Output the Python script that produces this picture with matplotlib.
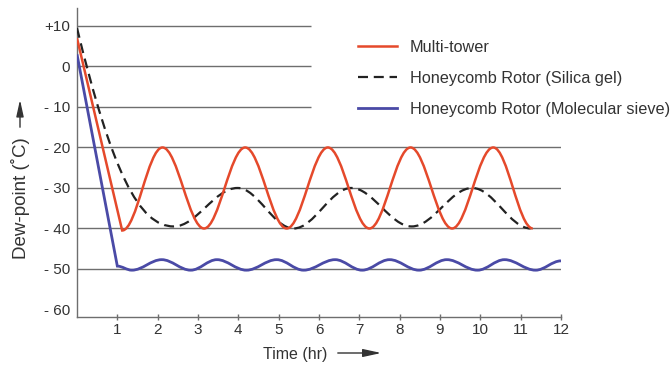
import matplotlib
matplotlib.use('Agg')
import matplotlib.pyplot as plt
from matplotlib.path import Path
from matplotlib.patches import PathPatch, FancyArrowPatch
from matplotlib.lines import Line2D

plt.rcParams['font.family'] = ['Liberation Sans', 'DejaVu Sans']

# ---- data (start point, corners and extrema) ----
series_names = ['Multi-tower', 'Honeycomb Rotor (Silica gel)', 'Honeycomb Rotor (Molecular sieve)']

red_t = [0.0, 1.12, 2.12, 3.15, 4.17, 5.2, 6.22, 7.25, 8.27, 9.3, 10.32, 11.3]
red_v = [7.0, -40.5, -20.0, -40.0, -20.0, -40.0, -20.0, -40.0, -20.0, -40.0, -20.0, -40.0]

black_t = [0.0, 2.4, 3.98, 5.37, 6.8, 8.3, 9.8, 11.25]
black_v = [9.5, -39.5, -30.0, -40.0, -30.0, -39.5, -30.0, -40.0]
black_start_slope = -41.0

blue_t = [0.0, 1.0, 1.36, 2.1, 2.82, 3.47, 4.2, 4.95, 5.62, 6.4, 7.07, 7.75, 8.48, 9.17, 9.93, 10.6, 11.37, 12.0]
blue_v = [3.0, -49.3, -50.3, -47.7, -50.3, -47.7, -50.3, -47.7, -50.3, -47.7, -50.3, -47.7, -50.3, -47.7, -50.3, -47.7, -50.3, -48.0]

y_ticks = [10, 0, -10, -20, -30, -40, -50, -60]
y_ticklabels = ['+10', '0', '- 10', '- 20', '- 30', '- 40', '- 50', '- 60']
x_ticks = [1, 2, 3, 4, 5, 6, 7, 8, 9, 10, 11, 12]

RED = '#e5492b'
BLUE = '#4a4aa6'
BLACK = '#222222'
GRID = '#6e6e6e'
TXT = '#333333'


def curve_path(ts, vs, n_lines=0, start_slope=None, k=0.36):
    verts = [(ts[0], vs[0])]
    codes = [Path.MOVETO]
    for i in range(1, len(ts)):
        x0, y0, x1, y1 = ts[i - 1], vs[i - 1], ts[i], vs[i]
        if i <= n_lines:
            verts.append((x1, y1))
            codes.append(Path.LINETO)
            continue
        dx = x1 - x0
        s0 = start_slope if (i == 1 and start_slope is not None) else 0.0
        c1 = (x0 + dx * k, y0 + s0 * dx * k)
        c2 = (x1 - dx * k, y1)
        verts += [c1, c2, (x1, y1)]
        codes += [Path.CURVE4] * 3
    return Path(verts, codes)


fig = plt.figure(figsize=(6.72, 3.66), dpi=100)
ax = fig.add_axes([77 / 672, 49 / 366, 484 / 672, 309 / 366])
ax.set_xlim(0, 12)
ax.set_ylim(-61.86, 14.44)

# horizontal guide lines
for v in y_ticks:
    if v == -60:
        continue
    xmax = 5.8 if v > -15 else 12
    ax.plot([0, xmax], [v, v], color=GRID, lw=1.0, zorder=1, solid_capstyle='butt')

ax.add_patch(PathPatch(curve_path(black_t, black_v, 0, black_start_slope), fill=False,
                       edgecolor=BLACK, lw=1.6, linestyle=(0, (4.5, 2.6)), zorder=3))
ax.add_patch(PathPatch(curve_path(red_t, red_v, 1), fill=False,
                       edgecolor=RED, lw=1.8, zorder=4))
ax.add_patch(PathPatch(curve_path(blue_t, blue_v, 1), fill=False,
                       edgecolor=BLUE, lw=2.0, zorder=4))

for s in ['top', 'right']:
    ax.spines[s].set_visible(False)
for s in ['left', 'bottom']:
    ax.spines[s].set_color(GRID)
    ax.spines[s].set_linewidth(1.0)

ax.set_yticks(y_ticks)
ax.set_yticklabels(y_ticklabels)
ax.set_xticks(x_ticks)
ax.set_xticklabels([str(x) for x in x_ticks])
ax.tick_params(axis='y', length=0, pad=5, labelsize=11, labelcolor=TXT)
ax.tick_params(axis='x', direction='inout', length=5, width=1.0, color=GRID, pad=2,
               labelsize=11, labelcolor=TXT)

handles = [Line2D([], [], color=RED, lw=1.8),
           Line2D([], [], color=BLACK, lw=1.6, linestyle=(0, (4.5, 2.6))),
           Line2D([], [], color=BLUE, lw=2.0)]
leg = fig.legend(handles, series_names, loc='upper left',
                 bbox_to_anchor=(358 / 672, 1 - 40 / 366), bbox_transform=fig.transFigure,
                 frameon=False, fontsize=11.7, handlelength=2.4, handletextpad=0.8,
                 labelspacing=0.97, borderpad=0, borderaxespad=0)
for t in leg.get_texts():
    t.set_color(TXT)

# axis titles with arrows
fig.text(263 / 672, 1 - 354 / 366, 'Time (hr)', ha='left', va='center', fontsize=11.5, color=TXT)
fig.patches.append(FancyArrowPatch(
    (335 / 672, 1 - 353 / 366), (384 / 672, 1 - 353 / 366), transform=fig.transFigure,
    arrowstyle='-|>,head_length=11,head_width=2.4', color=TXT, lw=1.0))

fig.text(21 / 672, 1 - 198 / 366, 'Dew-point (˚C)', ha='center', va='center', rotation=90,
         fontsize=13.5, color=TXT)
fig.patches.append(FancyArrowPatch(
    (20 / 672, 1 - 130 / 366), (20 / 672, 1 - 97 / 366), transform=fig.transFigure,
    arrowstyle='-|>,head_length=10,head_width=2.2', color=TXT, lw=1.0))

fig.savefig('out.png', dpi=100)
